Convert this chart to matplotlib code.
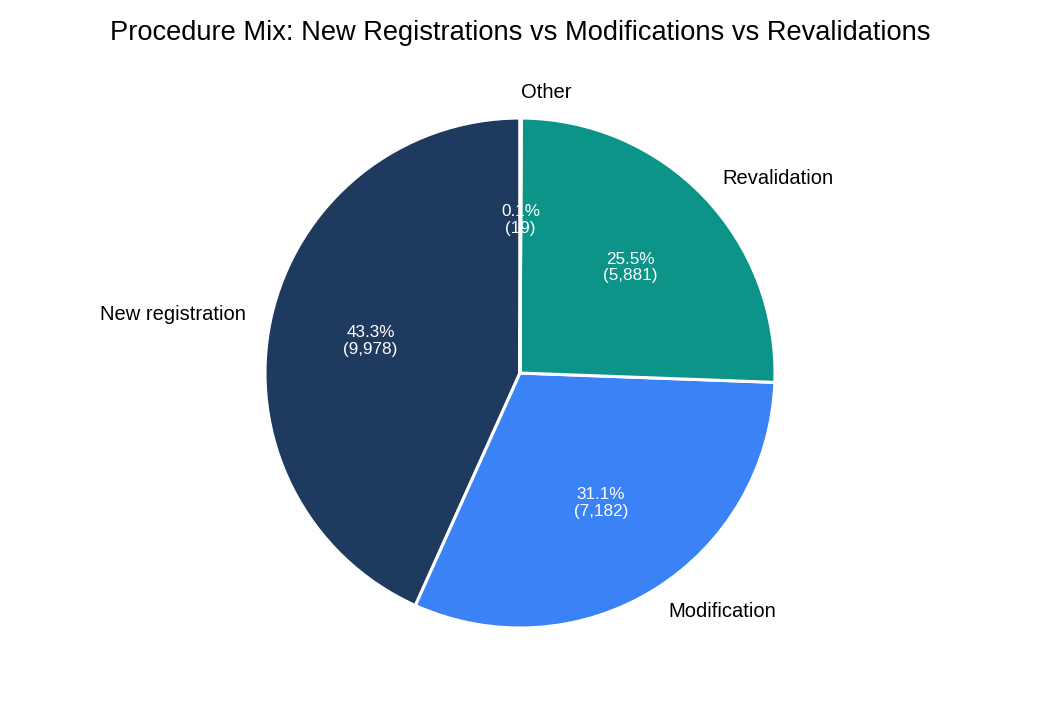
import matplotlib.pyplot as plt

plt.rcParams['font.family'] = ['Liberation Sans', 'DejaVu Sans']

# procedure counts
categories = ['New registration', 'Modification', 'Revalidation', 'Other']
counts = [9978, 7182, 5881, 19]
colors = ['#1f3a5f', '#3b82f6', '#0d9488', '#94a3b8']

total = sum(counts)


def fmt_pct(pct):
    val = int(round(pct * total / 100.0))
    return f'{pct:.1f}%\n({val:,})'


fig = plt.figure(figsize=(10.4, 7.15), dpi=100)
ax = fig.add_axes([0.1935, 0.0325, 0.613, 0.8916])

wedges, texts, autotexts = ax.pie(
    counts, labels=categories, colors=colors, startangle=90,
    counterclock=True, autopct=fmt_pct, pctdistance=0.6, labeldistance=1.1,
    wedgeprops=dict(edgecolor='white', linewidth=2.2),
    textprops=dict(fontsize=14.5, color='black'))

for t in autotexts:
    t.set_color('white')
    t.set_fontsize(12.3)
    t.set_linespacing(1.1)

ax.set_aspect('equal')
fig.text(0.5, 1 - 33 / 715, 'Procedure Mix: New Registrations vs Modifications vs Revalidations',
         ha='center', va='center', fontsize=19.6)

fig.savefig('out.png', dpi=100)
